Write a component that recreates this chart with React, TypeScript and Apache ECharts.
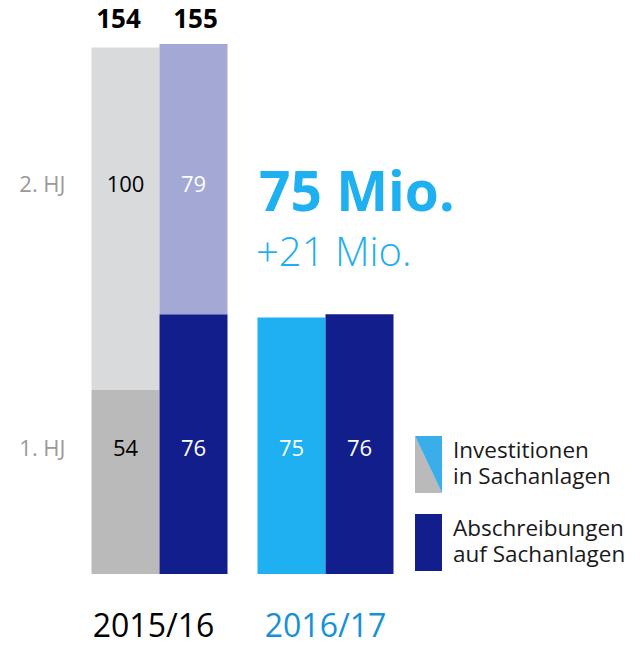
import React, { useEffect, useRef } from "react";
import * as echarts from "echarts";

const categories = ["2015/16", "2016/17"];
const invH1 = [54, 75];
const invH2: (number | null)[] = [100, null];
const absH1 = [76, 76];
const absH2: (number | null)[] = [79, null];
const rowLabels = ["1. HJ", "2. HJ"];
const legendLines = [
  ["Investitionen", "in Sachanlagen"],
  ["Abschreibungen", "auf Sachanlagen"],
];

// layout constants (axis values where the row / total labels sit)
const ROW_LEVELS = [37.1, 114.4];
const TOTAL_LEVEL = 162.5;
const FONT = "'Open Sans', 'Noto Sans', sans-serif";

const C = {
  invH1: ["#bababb", "#1eb0f0"],
  invH2: "#d9dadc",
  absH1: "#121e8c",
  absH2: "#a3a8d4",
  blue: "#1eb0f0",
  yearBlue: "#1690d8",
  legendBlue: "#3aaee8",
};

export default function App() {
  const ref = useRef<HTMLDivElement>(null);
  useEffect(() => {
    if (!ref.current) return;
    const chart = echarts.init(ref.current, null, { renderer: "svg" });

    const labelData: any[] = [];
    categories.forEach((_, i) => {
      const rows = [
        { v: invH1[i], lvl: ROW_LEVELS[0], off: -34, color: i === 0 ? "#000" : "#fff" },
        { v: invH2[i], lvl: ROW_LEVELS[1], off: -34, color: "#000" },
        { v: absH1[i], lvl: ROW_LEVELS[0], off: 34, color: "#fff" },
        { v: absH2[i], lvl: ROW_LEVELS[1], off: 34, color: "#fff" },
      ];
      rows.forEach((r) => {
        if (r.v == null) return;
        labelData.push({
          value: [i, r.lvl],
          label: {
            show: true,
            position: "inside",
            offset: [r.off, 0],
            formatter: String(r.v),
            color: r.color,
            opacity: 1,
            textBorderWidth: 0,
          },
        });
      });
      // totals above the stacked bars (only where a 2nd half exists)
      const totals = [
        { h2: invH2[i], sum: invH1[i] + (invH2[i] || 0), off: -41 },
        { h2: absH2[i], sum: absH1[i] + (absH2[i] || 0), off: 36 },
      ];
      totals.forEach((t) => {
        if (t.h2 == null) return;
        labelData.push({
          value: [i, TOTAL_LEVEL],
          label: {
            show: true,
            position: "inside",
            offset: [t.off, 0],
            formatter: String(t.sum),
            color: "#000",
            opacity: 1,
            fontWeight: "bold",
            fontSize: 26,
            textBorderWidth: 0,
          },
        });
      });
    });

    const legendText = (x: number, y: number, text: string) => ({
      type: "text",
      x,
      y,
      style: {
        text,
        font: `22.5px ${FONT}`,
        lineHeight: 22,
        fill: "#1a1a1a",
        verticalAlign: "middle",
      },
    });

    const option: any = {
      animation: false,
      grid: { left: 76.5, right: 231.5, top: 27, bottom: 72 },
      xAxis: {
        type: "category",
        data: categories,
        axisLine: { show: false },
        axisTick: { show: false },
        axisLabel: {
          margin: 34,
          overflow: "none",
          formatter: (v: string, i: number) => (i === 0 ? `{a|${v}}` : `{b|${v}}`),
          rich: {
            a: { fontFamily: FONT, fontSize: 32, lineHeight: 32, color: "#000", padding: [0, 12, 0, 0] },
            b: { fontFamily: FONT, fontSize: 32, lineHeight: 32, color: C.yearBlue },
          },
        },
      },
      yAxis: {
        type: "value",
        min: 0,
        max: 160,
        splitLine: { show: false },
        axisLine: { show: false },
        axisTick: { show: false },
        axisLabel: {
          customValues: ROW_LEVELS,
          margin: 11,
          fontFamily: FONT,
          fontSize: 22,
          color: "#9a9a9a",
          formatter: (v: number) => {
            const idx = ROW_LEVELS.findIndex((l) => Math.abs(l - v) < 0.01);
            return idx >= 0 ? rowLabels[idx] : "";
          },
        },
      },
      series: [
        {
          name: "Investitionen 1. HJ",
          type: "bar",
          stack: "inv",
          barWidth: 68,
          barGap: "0%",
          data: invH1.map((v, i) => ({ value: v, itemStyle: { color: C.invH1[i] } })),
        },
        {
          name: "Investitionen 2. HJ",
          type: "bar",
          stack: "inv",
          barWidth: 68,
          barGap: "0%",
          itemStyle: { color: C.invH2 },
          data: invH2.map((v) => (v == null ? "-" : v)),
        },
        {
          name: "Abschreibungen 1. HJ",
          type: "bar",
          stack: "abs",
          barWidth: 68,
          barGap: "0%",
          itemStyle: { color: C.absH1 },
          data: absH1,
        },
        {
          name: "Abschreibungen 2. HJ",
          type: "bar",
          stack: "abs",
          barWidth: 68,
          barGap: "0%",
          itemStyle: { color: C.absH2 },
          data: absH2.map((v) => (v == null ? "-" : v)),
        },
        {
          name: "labels",
          type: "scatter",
          silent: true,
          clip: false,
          symbolSize: 1,
          itemStyle: { color: "none", opacity: 1 },
          label: { fontFamily: FONT, fontSize: 22 },
          data: labelData,
          z: 10,
        },
      ],
      graphic: [
        {
          type: "text",
          x: 259,
          y: 189,
          style: {
            text: `${invH1[1]} Mio.`,
            font: `bold 55px ${FONT}`,
            fill: C.blue,
            verticalAlign: "middle",
          },
        },
        {
          type: "text",
          x: 256,
          y: 250,
          style: {
            text: `+${invH1[1] - invH1[0]} Mio.`,
            font: `300 40px ${FONT}`,
            fill: C.blue,
            verticalAlign: "middle",
          },
        },
        {
          type: "polygon",
          shape: { points: [[415, 436], [442, 493], [415, 493]] },
          style: { fill: C.invH1[0] },
        },
        {
          type: "polygon",
          shape: { points: [[415, 436], [442, 436], [442, 493]] },
          style: { fill: C.legendBlue },
        },
        legendText(453, 449.5, legendLines[0][0]),
        legendText(453, 475, legendLines[0][1]),
        {
          type: "rect",
          shape: { x: 415, y: 514, width: 27, height: 57 },
          style: { fill: C.absH1 },
        },
        legendText(453, 527.5, legendLines[1][0]),
        legendText(453, 553, legendLines[1][1]),
      ],
    };
    chart.setOption(option);
    return () => chart.dispose();
  }, []);
  return (
    <div
      ref={ref}
      style={{ position: "fixed", left: 0, top: 0, width: 640, height: 646, background: "#fff" }}
    />
  );
}
